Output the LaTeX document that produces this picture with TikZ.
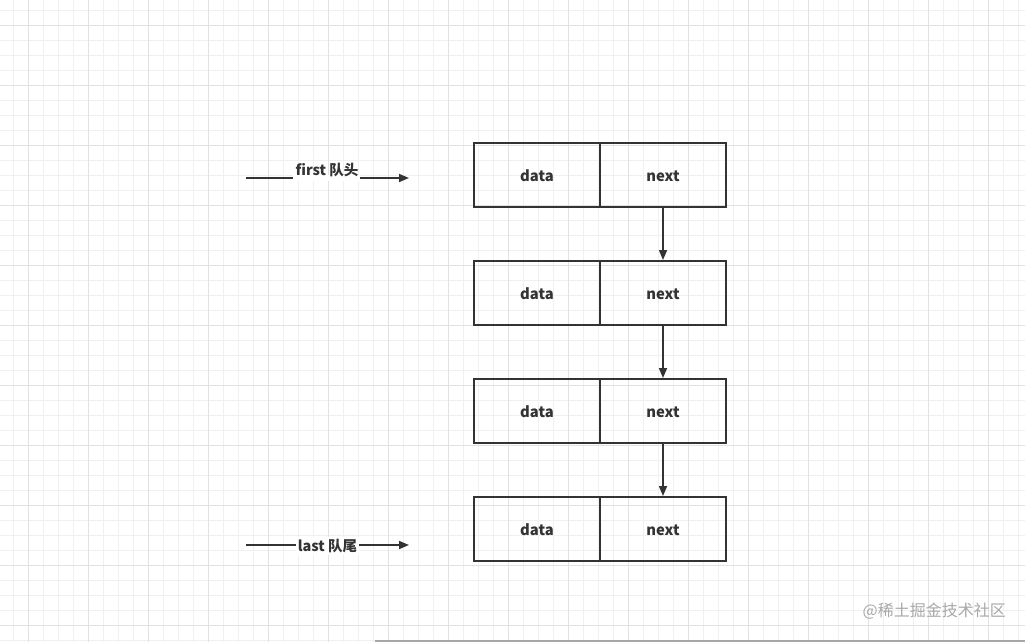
\documentclass[tikz,border=0pt]{standalone}
\usepackage{fontspec}
\setmainfont{Noto Sans CJK SC}
\usetikzlibrary{arrows.meta}
\definecolor{ink}{HTML}{333333}
\definecolor{gridminor}{HTML}{F0F0F0}
\definecolor{gridmajor}{HTML}{E2E2E2}
\definecolor{wm}{HTML}{A8A8A8}
\tikzset{
  cell/.style={draw=ink, line width=2pt, minimum width=126pt, minimum height=64pt, inner sep=0pt},
  celltext/.style={inner sep=0pt, anchor=base, font=\fontsize{14.8}{16}\selectfont\bfseries, text=ink},
  link/.style={draw=ink, line width=1.7pt, -{Triangle[length=10pt,width=8pt]}},
  ptrlabel/.style={fill=white, font=\fontsize{14.5}{16}\selectfont\bfseries, text=ink}
}
\begin{document}
\begin{tikzpicture}[x=1pt,y=-1pt]
\useasboundingbox (0,0) rectangle (1025,642);
\fill[white] (0,0) rectangle (1025,642);
% grid
\foreach \i in {0,...,67} {
  \draw[gridminor, line width=0.8pt] ({13.3+15*\i},0) -- ({13.3+15*\i},642);
}
\foreach \j in {0,...,42} {
  \draw[gridminor, line width=0.8pt] (0,{10+15*\j}) -- (1025,{10+15*\j});
}
\foreach \i in {0,...,16} {
  \draw[gridmajor, line width=0.9pt] ({28.3+60*\i},0) -- ({28.3+60*\i},642);
}
\foreach \j in {0,...,10} {
  \draw[gridmajor, line width=0.9pt] (0,{25+60*\j}) -- (1025,{25+60*\j});
}
% bottom rule
\draw[gray!70, line width=1.2pt] (375,641) -- (1025,641);

% boxes
\foreach \r/\y in {1/175, 2/293, 3/411, 4/529} {
  \node[cell] (d\r) at (537,\y) {};
  \node[cell] (n\r) at (663,\y) {};
  \node[celltext] (dt\r) at ([yshift=-6.8pt]d\r.center) {data};
  \node[celltext] (nt\r) at ([yshift=-6.8pt]n\r.center) {next};
}
% links
\draw[link] (n1.south) -- (n2.north);
\draw[link] (n2.south) -- (n3.north);
\draw[link] (n3.south) -- (n4.north);

% pointers
\coordinate (fs) at (246,178);
\coordinate (fe) at (409,178);
\coordinate (ls) at (246,545);
\coordinate (le) at (409,545);
\draw[link] (fs) -- (fe);
\node[fill=white, inner sep=0pt, minimum width=67pt, minimum height=6pt] (fcover) at (326.5,178) {};
\node[font=\fontsize{14.5}{16}\selectfont\bfseries, text=ink, inner sep=0pt] (flabel) at (327,170) {first 队头};
\draw[link] (ls) -- (le);
\node[ptrlabel, inner sep=2pt] (llabel) at (327.5,546) {last 队尾};

% watermark
\node[font=\fontsize{16}{18}\selectfont, text=wm, anchor=east, inner sep=0pt] (wmark) at (1006,611) {@稀土掘金技术社区};
\end{tikzpicture}
\end{document}
